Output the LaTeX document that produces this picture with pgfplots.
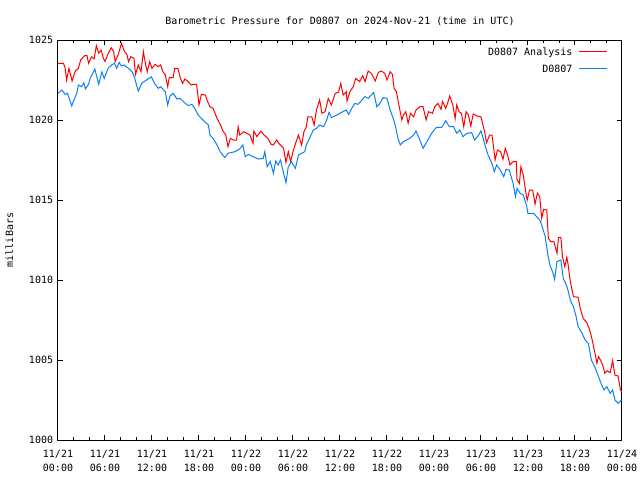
\documentclass[border=0pt]{standalone}
\usepackage{pgfplots}
\pgfplotsset{compat=1.18}
\usepackage{fontspec}
\setmainfont{DejaVu Sans Mono}
\definecolor{anared}{RGB}{255,0,0}
\definecolor{obsblue}{RGB}{10,128,245}
\begin{document}
\fontsize{7.5}{9}\selectfont
\begin{tikzpicture}
\path[use as bounding box] (-43.5pt,-30pt) rectangle (436.5pt,330pt);
\begin{axis}[
  at={(0,0)}, anchor=south west,
  scale only axis, width=423pt, height=300pt,
  xmin=0, xmax=72, ymin=1000, ymax=1025,
  xtick={0,6,...,72},
  xticklabels={{11/21\\00:00},{11/21\\06:00},{11/21\\12:00},{11/21\\18:00},{11/22\\00:00},{11/22\\06:00},{11/22\\12:00},{11/22\\18:00},{11/23\\00:00},{11/23\\06:00},{11/23\\12:00},{11/23\\18:00},{11/24\\00:00}},
  xticklabel style={align=center, font=\fontsize{7.5}{10.5}\selectfont, yshift=-5pt},
  minor x tick num=2,
  ytick={1000,1005,...,1025},
  yticklabel style={font=\fontsize{7.5}{9}\selectfont, xshift=-1pt},
  /pgf/number format/assume math mode=true,
  /pgf/number format/1000 sep={},
  tick align=inside,
  major tick length=3.5pt, minor tick length=2pt,
  tick style={black, line width=0.75pt},
  axis line style={line width=0.75pt},
  ylabel={milliBars},
  ylabel style={font=\fontsize{7.5}{9}\selectfont, at={(ticklabel cs:0.5)}, yshift=6.5pt},
  title={Barometric Pressure for D0807 on 2024-Nov-21 (time in UTC)},
  title style={font=\fontsize{7.5}{9}\selectfont, yshift=2pt},
  legend style={draw=none, fill=none, at={(1,1)}, anchor=north east, xshift=-9pt, yshift=-4pt,
    font=\fontsize{7.5}{9}\selectfont, row sep=1.5pt, inner sep=0pt},
  legend cell align=right,
  legend plot pos=none,
  legend image code/.code={},
  every axis plot/.append style={line width=0.75pt},
]
\addplot[color=anared, sharp plot] coordinates {
(0,1023.54)(0.7,1023.54)(0.9,1023.27)(1.1,1022.5)(1.4,1023.23)(1.8,1022.44)(2.2,1023.06)(2.6,1023.23)(2.9,1023.75)(3.4,1024.02)(3.7,1024.02)(3.9,1023.54)(4.3,1023.96)(4.6,1023.81)(4.9,1024.64)(5.2,1024.17)(5.5,1024.375)(5.8,1023.85)(6.0,1023.65)(6.3,1024.02)(6.8,1024.52)(7.1,1024.27)(7.3,1023.65)(7.7,1024.1)(8.1,1024.79)(8.5,1024.27)(8.8,1024.1)(9.0,1023.65)(9.3,1023.96)(9.7,1023.85)(9.9,1022.85)(10.25,1023.44)(10.6,1023.02)(10.9,1024.27)(11.2,1023.44)(11.4,1023.02)(11.7,1023.65)(12.0,1023.23)(12.4,1023.48)(12.8,1023.33)(13.1,1023.44)(13.4,1023.02)(13.7,1022.81)(14.0,1022.08)(14.2,1022.65)(14.7,1022.65)(14.9,1023.23)(15.3,1023.23)(15.6,1022.65)(15.9,1022.29)(16.2,1022.56)(16.6,1022.4)(17.0,1022.19)(17.3,1022.23)(17.7,1022.23)(18.0,1020.94)(18.3,1021.6)(18.8,1021.56)(19.1,1021.15)(19.4,1020.83)(19.8,1020.73)(20.3,1020.1)(20.7,1019.73)(21.1,1019.27)(21.4,1019.1)(21.7,1018.33)(22.0,1018.85)(22.4,1018.75)(22.8,1018.75)(23.0,1019.58)(23.2,1019.06)(23.7,1019.27)(24.1,1019.17)(24.5,1019.06)(24.9,1018.54)(25.0,1019.31)(25.4,1018.96)(25.9,1019.31)(26.3,1019.06)(26.8,1018.85)(27.2,1018.48)(27.5,1018.44)(27.9,1018.75)(28.3,1018.48)(28.8,1018.23)(29.1,1017.35)(29.4,1018.02)(29.7,1017.4)(30.0,1018.02)(30.4,1018.65)(30.7,1019.06)(31.1,1018.44)(31.4,1019.27)(31.7,1019.58)(31.9,1020.2)(32.4,1020.2)(32.7,1019.69)(33.0,1020.625)(33.4,1021.25)(33.7,1020.42)(34.1,1020.52)(34.5,1021.35)(34.9,1020.94)(35.4,1021.67)(35.8,1021.73)(36.1,1022.29)(36.4,1021.56)(36.8,1021.77)(36.9,1021.19)(37.3,1021.81)(37.7,1022.08)(38.0,1022.6)(38.5,1022.4)(38.9,1022.77)(39.2,1022.4)(39.6,1023.06)(40.0,1022.92)(40.5,1022.44)(40.9,1022.98)(41.3,1023.06)(41.7,1022.92)(42.0,1022.5)(42.4,1023.02)(42.7,1022.85)(42.9,1021.98)(43.2,1021.77)(43.6,1020.73)(43.9,1020.0)(44.1,1020.31)(44.4,1020.52)(44.7,1019.79)(45.0,1020.42)(45.4,1020.2)(45.7,1020.625)(46.2,1020.83)(46.6,1020.83)(47.0,1020.0)(47.3,1020.52)(47.8,1020.42)(48.1,1020.83)(48.5,1021.04)(48.9,1020.67)(49.1,1021.15)(49.5,1020.73)(49.8,1021.15)(50.0,1021.5)(50.4,1020.94)(50.7,1020.1)(50.9,1020.94)(51.2,1020.52)(51.5,1020.42)(51.8,1019.58)(52.1,1020.52)(52.4,1020.31)(52.7,1019.625)(53.0,1020.375)(53.5,1020.25)(54.0,1020.2)(54.2,1019.79)(54.5,1019.17)(54.7,1018.58)(55.1,1019.06)(55.4,1019.06)(55.6,1018.33)(55.8,1017.5)(56.1,1018.125)(56.5,1018.02)(56.8,1017.54)(57.1,1018.23)(57.4,1017.81)(57.7,1017.19)(58.1,1017.4)(58.5,1017.4)(58.6,1016.25)(58.9,1016.04)(59.1,1017.08)(59.4,1016.56)(59.8,1015.21)(59.9,1015.0)(60.2,1015.625)(60.6,1015.625)(60.9,1014.75)(61.2,1015.42)(61.5,1015.21)(61.75,1013.85)(62.0,1014.42)(62.4,1014.375)(62.6,1012.6)(62.9,1012.4)(63.3,1012.4)(63.7,1011.67)(63.9,1012.67)(64.2,1012.67)(64.4,1011.46)(64.7,1010.83)(64.95,1011.42)(65.1,1011.04)(65.4,1009.9)(65.8,1008.96)(66.4,1008.92)(66.7,1008.17)(67.05,1007.6)(67.5,1007.33)(67.8,1006.98)(68.1,1006.46)(68.6,1005.31)(68.8,1004.79)(69.0,1005.21)(69.3,1004.96)(69.6,1004.58)(69.8,1004.17)(70.1,1004.33)(70.5,1004.21)(70.8,1004.96)(71.1,1004.06)(71.5,1004.0)(71.8,1003.125)(72,1003.0)
};
\addlegendentry{D0807 Analysis\hspace{5pt}\textcolor{anared}{\rule[2.6pt]{21pt}{0.75pt}}}
\addplot[color=obsblue, sharp plot] coordinates {
(0,1021.67)(0.5,1021.875)(0.9,1021.6)(1.2,1021.67)(1.5,1021.25)(1.75,1020.875)(1.95,1021.15)(2.4,1021.67)(2.6,1022.19)(3.0,1022.08)(3.3,1022.33)(3.5,1021.94)(3.9,1022.23)(4.1,1022.6)(4.5,1022.98)(4.7,1023.19)(4.9,1022.8)(5.2,1022.23)(5.6,1023.0)(5.9,1022.6)(6.4,1023.23)(6.85,1023.44)(7.2,1023.54)(7.5,1023.23)(7.8,1023.6)(8.1,1023.375)(8.4,1023.44)(9.0,1023.23)(9.5,1022.98)(9.8,1022.6)(10.25,1021.8)(10.7,1022.3)(11.3,1022.5)(11.9,1022.7)(12.4,1022.23)(12.8,1021.98)(13.1,1022.08)(13.7,1021.77)(14.0,1020.94)(14.3,1021.5)(14.7,1021.67)(15.2,1021.31)(15.6,1021.35)(16.0,1021.15)(16.6,1020.9)(17.1,1020.98)(17.5,1020.69)(17.9,1020.3)(18.5,1020.0)(19.2,1019.69)(19.4,1019.06)(19.8,1018.85)(20.3,1018.44)(20.7,1018.02)(21.3,1017.65)(21.7,1017.92)(22.6,1018.02)(23.2,1018.2)(23.6,1018.44)(23.9,1017.71)(24.3,1017.85)(24.9,1017.71)(25.6,1017.56)(26.2,1017.6)(26.4,1018.02)(26.7,1017.08)(27.1,1017.4)(27.5,1016.67)(27.8,1017.44)(28.1,1017.19)(28.4,1017.5)(28.8,1016.67)(29.1,1016.08)(29.4,1017.08)(29.8,1017.4)(30.3,1016.98)(30.7,1017.81)(31.1,1017.92)(31.5,1018.02)(31.7,1018.44)(32.2,1018.96)(32.6,1019.375)(33.0,1019.48)(33.4,1019.69)(33.9,1019.58)(34.3,1020.0)(34.6,1020.48)(34.9,1020.15)(35.6,1020.31)(36.2,1020.48)(36.8,1020.625)(37.1,1020.35)(37.5,1020.73)(37.9,1021.04)(38.3,1020.98)(38.8,1021.25)(39.2,1021.46)(39.6,1021.35)(40.3,1021.73)(40.7,1020.83)(41.1,1021.04)(41.5,1021.4)(42.0,1021.35)(42.4,1020.625)(42.8,1020.1)(43.1,1019.58)(43.4,1018.85)(43.7,1018.44)(44.1,1018.65)(44.5,1018.75)(44.9,1018.85)(45.4,1019.06)(45.7,1019.31)(46.2,1018.75)(46.6,1018.23)(47.1,1018.65)(47.7,1019.17)(48.3,1019.54)(49.0,1019.54)(49.5,1019.96)(49.95,1019.58)(50.5,1019.58)(50.9,1019.17)(51.3,1019.375)(51.7,1018.96)(52.2,1019.17)(52.8,1019.21)(53.2,1018.75)(53.7,1019.06)(54.0,1019.33)(54.5,1018.44)(54.9,1017.81)(55.4,1017.29)(55.7,1016.77)(56.0,1017.19)(56.4,1016.92)(56.9,1016.46)(57.2,1016.92)(57.6,1016.875)(58.1,1016.04)(58.4,1015.21)(58.6,1015.73)(59.0,1015.42)(59.4,1015.31)(59.8,1014.69)(60.0,1014.15)(60.7,1014.17)(61.1,1013.96)(61.5,1013.75)(61.75,1013.44)(62.2,1012.71)(62.5,1011.67)(62.8,1010.94)(63.2,1010.42)(63.4,1010.04)(63.7,1011.15)(64.2,1011.25)(64.5,1010.1)(64.9,1009.69)(65.1,1009.375)(65.4,1008.75)(65.8,1008.33)(66.1,1007.81)(66.4,1007.08)(66.8,1006.77)(67.3,1006.25)(67.7,1006.04)(68.1,1005.0)(68.6,1004.48)(69.0,1003.96)(69.4,1003.44)(69.7,1003.125)(70.05,1003.33)(70.5,1002.92)(70.8,1003.125)(71.1,1002.5)(71.5,1002.29)(71.9,1002.5)(72,1002.5)
};
\addlegendentry{D0807\hspace{5pt}\textcolor{obsblue}{\rule[2.6pt]{21pt}{0.75pt}}}
\end{axis}
\end{tikzpicture}
\end{document}
